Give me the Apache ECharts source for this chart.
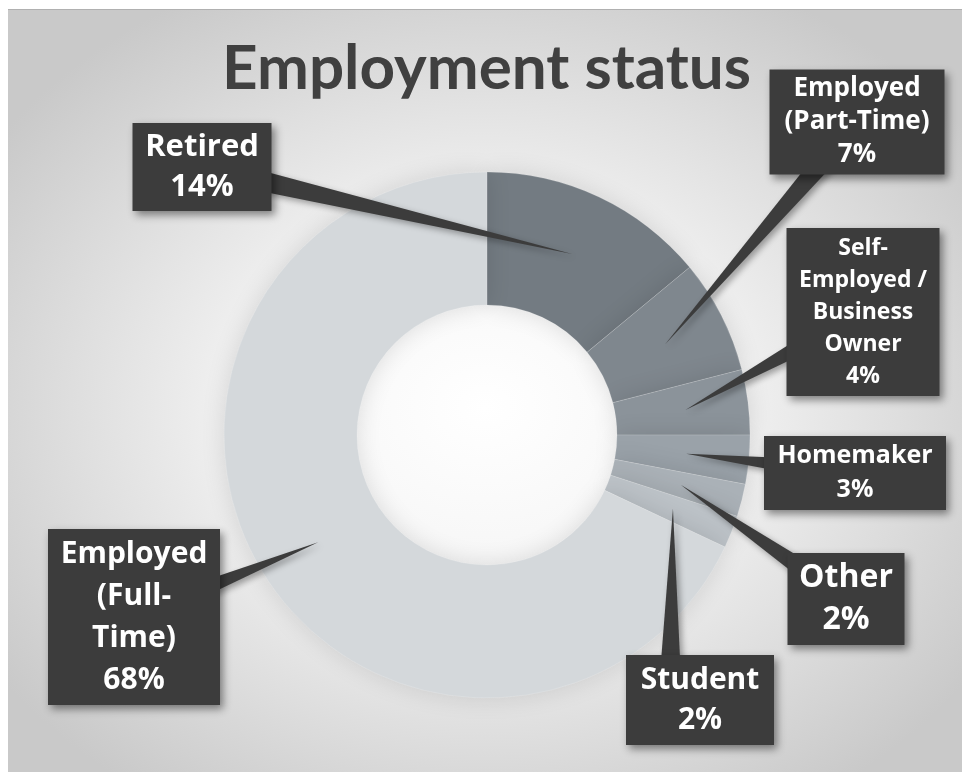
<!DOCTYPE html>
<html>
<head>
<meta charset="utf-8">
<title>Employment status</title>
<script src="https://cdn.jsdelivr.net/npm/echarts@6/dist/echarts.min.js"></script>
<style>
  html, body { margin: 0; padding: 0; background: #fff; }
  /* slide frame with the grey radial backdrop */
  #frame {
    position: absolute; left: 8px; top: 9px; width: 954px; height: 763px;
    border-top: 1px solid #b0b0b0;
    background: radial-gradient(ellipse 62% 62% at 50% 52%, #ffffff 0%, #f6f6f6 35%, #dedede 70%, #c9c9c9 100%);
  }
  #chart { position: absolute; left: 0; top: 0; width: 962px; height: 772px; }
</style>
</head>
<body>
<div id="frame"></div>
<div id="chart"></div>
<script>
// data (clockwise from 12 o'clock)
const categories = ['Retired', 'Employed\n(Part-Time)', 'Self-\nEmployed /\nBusiness\nOwner', 'Homemaker', 'Other', 'Student', 'Employed\n(Full-\nTime)']
const shares = [14, 7, 4, 3, 2, 2, 68]

// slice colours, dark to light
const sliceColors = ['#737b82', '#7f878e', '#8b939a', '#9aa2a9', '#aab1b7', '#bcc2c7', '#d4d8db']

// callout boxes: centre, font size, line height, content width, padding
// bx/by = where the pointer's base sits (defaults to the box centre)
const callouts = [
  { x: 202, y: 167, size: 31, lh: 40, w: 119, pad: [4, 10] },
  { x: 857, y: 122, size: 26, lh: 33, w: 155, pad: [3, 10] },
  { x: 863, y: 312, size: 23, lh: 32, w: 137, pad: [4, 8] },
  { x: 855, y: 473, size: 25, lh: 34, w: 168, pad: [3, 7] },
  { x: 846, y: 599, size: 32, lh: 42, w: 97, pad: [4, 10] },
  { x: 700, y: 700, size: 30, lh: 40, w: 128, pad: [5, 10], bx: 670 },
  { x: 134, y: 617, size: 30, lh: 42, w: 152, pad: [4, 10] }
]

const CENTER = [487, 435]
const TIP_R = 200
const LABEL_FONT = '"Open Sans", Lato, sans-serif'
const TITLE_FONT = 'Lato, "Open Sans", sans-serif'
const BOX = '#3c3c3c'

const chart = echarts.init(document.getElementById('chart'), null, { renderer: 'canvas' })

const total = shares.reduce((a, b) => a + b, 0)

// ring itself
const ringData = categories.map((name, i) => ({
  name,
  value: shares[i],
  itemStyle: { color: sliceColors[i] }
}))

// invisible pie that only carries the callout boxes
const calloutData = categories.map((name, i) => ({
  name,
  value: shares[i],
  label: {
    fontSize: callouts[i].size,
    lineHeight: callouts[i].lh,
    width: callouts[i].w,
    padding: callouts[i].pad
  }
}))

// pointer wedge: tip inside the slice at its mid angle, base under the box
function renderPointer (params) {
  const i = params.dataIndex
  let before = 0
  for (let k = 0; k < i; k++) before += shares[k]
  const mid = (before + shares[i] / 2) / total * Math.PI * 2
  const tip = [CENTER[0] + TIP_R * Math.sin(mid), CENTER[1] - TIP_R * Math.cos(mid)]
  const c = callouts[i]
  const bx = c.bx != null ? c.bx : c.x
  const by = c.by != null ? c.by : c.y
  const dx = bx - tip[0]
  const dy = by - tip[1]
  const len = Math.hypot(dx, dy)
  const hw = 12
  const nx = -dy / len * hw
  const ny = dx / len * hw
  return {
    type: 'polygon',
    shape: { points: [tip, [bx + nx, by + ny], [bx - nx, by - ny]] },
    style: {
      fill: BOX,
      shadowBlur: 6,
      shadowOffsetX: 3,
      shadowOffsetY: 3,
      shadowColor: 'rgba(0,0,0,0.35)'
    }
  }
}

const option = {
  animation: false,
  title: {
    text: 'Employment status',
    left: 217,
    top: 33,
    textStyle: { fontFamily: TITLE_FONT, fontSize: 62, fontWeight: 'bold', color: '#404040' }
  },
  series: [
    {
      type: 'pie',
      z: 2,
      center: CENTER,
      radius: [130, 263],
      startAngle: 90,
      clockwise: true,
      silent: true,
      label: { show: false },
      labelLine: { show: false },
      itemStyle: {
        borderColor: 'rgba(255,255,255,0.25)',
        borderWidth: 0.6,
        shadowBlur: 24,
        shadowColor: 'rgba(0,0,0,0.12)'
      },
      data: ringData
    },
    {
      type: 'custom',
      z: 3,
      coordinateSystem: 'none',
      silent: true,
      renderItem: renderPointer,
      data: shares
    },
    {
      type: 'pie',
      z: 4,
      center: CENTER,
      radius: [0, TIP_R],
      startAngle: 90,
      clockwise: true,
      silent: true,
      itemStyle: { color: 'rgba(0,0,0,0)' },
      label: {
        show: true,
        position: 'outside',
        formatter: p => p.name + '\n' + p.value + '%',
        color: '#ffffff',
        fontFamily: LABEL_FONT,
        fontWeight: 'bold',
        align: 'center',
        overflow: 'none',
        backgroundColor: BOX,
        shadowBlur: 8,
        shadowOffsetX: 3,
        shadowOffsetY: 4,
        shadowColor: 'rgba(0,0,0,0.45)'
      },
      labelLine: { show: false },
      labelLayout: p => ({
        x: callouts[p.dataIndex].x,
        y: callouts[p.dataIndex].y,
        align: 'center',
        verticalAlign: 'middle'
      }),
      data: calloutData
    }
  ]
}

chart.setOption(option)
</script>
</body>
</html>
